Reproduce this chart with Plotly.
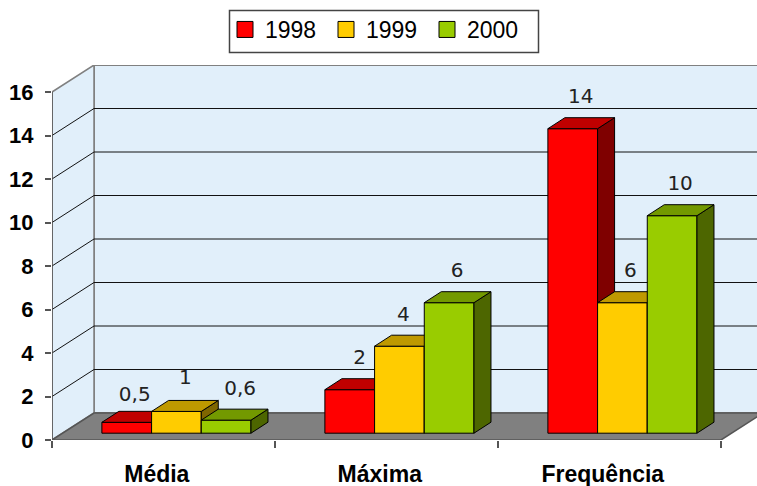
import plotly.graph_objects as go

categories = ["Média", "Máxima", "Frequência"]
series_names = ["1998", "1999", "2000"]
values_1998 = [0.5, 2, 14]
values_1999 = [1, 4, 6]
values_2000 = [0.6, 6, 10]
value_labels = [["0,5", "2", "14"], ["1", "4", "6"], ["0,6", "6", "10"]]
y_ticks = [0, 2, 4, 6, 8, 10, 12, 14, 16]

front_colors = ["#FF0000", "#FFCC00", "#99CC00"]
top_colors = ["#C00000", "#BF9900", "#739900"]
side_colors = ["#7F0000", "#7F6600", "#4D6600"]
all_values = [values_1998, values_1999, values_2000]

W, H = 757, 486
ML, MT, MB = 52, 65, 46
PX_X = 223.0      # pixels per category
PX_Y = 21.75      # pixels per value unit
XMAX = (W - ML) / PX_X
YMAX = (H - MB - MT) / PX_Y
WALL_DX, WALL_DY = 42 / PX_X, 27 / PX_Y
BAR_W = 49.7 / PX_X
BAR_DX, BAR_DY = 17 / PX_X, 11 / PX_Y
BAR_BASE = 6.8 / PX_Y
CENTER_SHIFT = 0.058
FONT = "Liberation Sans, Arial, sans-serif"
WALL = "#E1EFFA"
GREY = "#808080"
# small per-label pixel nudges (series, category) -> (dx, dy), on top of the common offset
LABEL_NUDGE = {(0, 0): (0, -4), (2, 0): (6, 0), (1, 1): (-4, 0), (1, 0): (1, 2), (0, 1): (2, 0)}


def poly(pts):
    return "M " + " L ".join(f"{x:.4f} {y:.4f}" for x, y in pts) + " Z"


shapes = []
def add(path=None, fill=None, line="#808080", lw=1):
    shapes.append(dict(type="path", path=path, xref="x", yref="y", layer="below",
                       fillcolor=fill or "rgba(0,0,0,0)",
                       line=dict(color=line, width=lw)))


top = y_ticks[-1]
# back wall, side wall, floor
add(poly([(WALL_DX, WALL_DY), (XMAX + 1, WALL_DY), (XMAX + 1, top + WALL_DY), (WALL_DX, top + WALL_DY)]), WALL, GREY, 2)
add(poly([(0, 0), (WALL_DX, WALL_DY), (WALL_DX, top + WALL_DY), (0, top)]), WALL, GREY, 1.5)
add(poly([(0, 0), (3, 0), (3 + WALL_DX, WALL_DY), (WALL_DX, WALL_DY)]), GREY, "#555555", 1.5)
# gridlines
for t in y_ticks[1:-1]:
    shapes.append(dict(type="line", xref="x", yref="y", layer="below", x0=0, y0=t, x1=WALL_DX, y1=t + WALL_DY,
                       line=dict(color="#111111", width=1)))
    shapes.append(dict(type="line", xref="x", yref="y", layer="below", x0=WALL_DX, y0=t + WALL_DY, x1=XMAX, y1=t + WALL_DY,
                       line=dict(color="#111111", width=1)))
# value axis line
shapes.append(dict(type="line", xref="x", yref="y", layer="above", x0=0, y0=0, x1=0, y1=top,
                   line=dict(color="#555555", width=1.5)))
# legend frame
shapes.append(dict(type="rect", xref="paper", yref="paper",
                   x0=(229.5 - ML) / (W - ML), x1=(538.5 - ML) / (W - ML),
                   y0=(H - MB - 52.5) / (H - MB - MT), y1=(H - MB - 10.5) / (H - MB - MT),
                   line=dict(color="#444444", width=1.5), layer="above"))

fig = go.Figure()
for k, vals in enumerate(all_values):
    xs = [i + 0.5 + CENTER_SHIFT + (k - 1) * BAR_W for i in range(len(categories))]
    z = k + 1
    fig.add_trace(go.Bar(x=xs, y=vals, base=BAR_BASE, width=BAR_W, zorder=z, showlegend=False,
                         marker=dict(color=front_colors[k], line=dict(color="black", width=1))))
    for x, v in zip(xs, vals):
        l, r, b, t = x - BAR_W / 2, x + BAR_W / 2, BAR_BASE, BAR_BASE + v
        side = [(r, b), (r + BAR_DX, b + BAR_DY), (r + BAR_DX, t + BAR_DY), (r, t), (r, b)]
        cap = [(l, t), (l + BAR_DX, t + BAR_DY), (r + BAR_DX, t + BAR_DY), (r, t), (l, t)]
        for pts, col in ((side, side_colors[k]), (cap, top_colors[k])):
            fig.add_trace(go.Scatter(x=[p[0] for p in pts], y=[p[1] for p in pts], mode="lines",
                                     fill="toself", fillcolor=col, zorder=z, showlegend=False,
                                     hoverinfo="skip", line=dict(color="black", width=1)))
    nudges = [LABEL_NUDGE.get((k, i), (0, 0)) for i in range(len(vals))]
    fig.add_trace(go.Scatter(x=[x + (8 + n[0]) / PX_X for x, n in zip(xs, nudges)],
                             y=[BAR_BASE + v + (30.5 + n[1]) / PX_Y for v, n in zip(vals, nudges)],
                             mode="text", text=value_labels[k], zorder=10, showlegend=False,
                             textposition="middle center", cliponaxis=False,
                             textfont=dict(family="DejaVu Sans, Verdana, sans-serif", size=20, color="#222222")))
    # legend entry
    fig.add_trace(go.Scatter(x=[None], y=[None], mode="markers", name=series_names[k],
                             marker=dict(symbol="square", size=18, color=front_colors[k],
                                         line=dict(color="black", width=1))))

fig.update_layout(
    width=W, height=H, autosize=False,
    margin=dict(l=ML, r=0, t=MT, b=MB, pad=0),
    paper_bgcolor="white", plot_bgcolor="rgba(0,0,0,0)",
    barmode="overlay", shapes=shapes,
    legend=dict(orientation="h", x=225 / W, y=1 - 8 / H, xref="container", yref="container",
                xanchor="left", yanchor="top", borderwidth=0, bgcolor="rgba(0,0,0,0)",
                font=dict(family=FONT, size=23, color="black"), itemwidth=30,
                entrywidth=56, entrywidthmode="pixels",
                traceorder="normal"),
    xaxis=dict(range=[0, XMAX], showgrid=False, zeroline=False, showline=False,
               tickmode="array", tickvals=[i + 0.47 for i in range(3)], ticktext=categories,
               ticks="", tickfont=dict(family=FONT, size=23, color="black", weight=700),
               ticklabelstandoff=18,
               minor=dict(tickmode="array", tickvals=[0, 1, 2, 3], ticks="outside", ticklen=7,
                          tickwidth=1.5, tickcolor="#555555", showgrid=False)),
    yaxis=dict(range=[0, YMAX], showgrid=False, zeroline=False, showline=False,
               tickmode="array", tickvals=y_ticks, ticks="outside", ticklen=6, tickwidth=1.5,
               tickcolor="#555555", ticklabelstandoff=7,
               tickfont=dict(family=FONT, size=22, color="black", weight=700)),
)
fig.write_html("out.html", post_script="document.body.style.margin='0';",
               config=dict(displayModeBar=False))
